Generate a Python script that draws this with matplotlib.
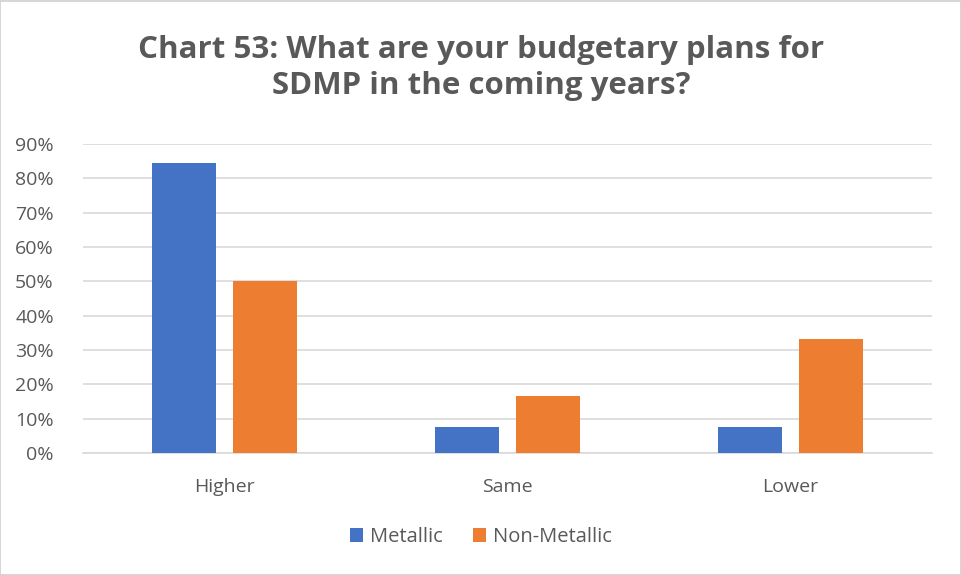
import matplotlib
matplotlib.use("Agg")
import matplotlib.pyplot as plt
from matplotlib.patches import Rectangle
import numpy as np

categories = ["Higher", "Same", "Lower"]
metallic = [84.6, 7.7, 7.7]
non_metallic = [50.0, 16.7, 33.3]
series_names = ["Metallic", "Non-Metallic"]
title = "Chart 53: What are your budgetary plans for\nSDMP in the coming years?"

blue = "#4472C4"
orange = "#ED7D31"
text_color = "#595959"
grid_color = "#D9D9D9"

plt.rcParams["font.family"] = ["Open Sans", "DejaVu Sans"]

fig = plt.figure(figsize=(9.62, 5.75), dpi=100)
fig.patches.append(Rectangle((0.0005, 0.0005), 0.998, 0.998, transform=fig.transFigure,
                             fill=False, edgecolor="#D0D0D0", linewidth=1.2))

ax = fig.add_axes([83 / 962, 1 - 453 / 575, (932 - 83) / 962, (453 - 144) / 575])

x = np.arange(len(categories))
width = 0.223
offset = 0.143
ax.bar(x - offset, metallic, width, color=blue, label=series_names[0], zorder=3)
ax.bar(x + offset, non_metallic, width, color=orange, label=series_names[1], zorder=3)

ax.set_xlim(-0.5, 2.5)
ax.set_ylim(0, 90)
ax.set_yticks(np.arange(0, 91, 10))
ax.set_yticklabels([f"{v}%" for v in range(0, 91, 10)])
ax.set_xticks(x)
ax.set_xticklabels(categories)
ax.tick_params(axis="both", length=0, labelsize=14, colors=text_color)
ax.tick_params(axis="y", pad=21)
ax.tick_params(axis="x", pad=18)
ax.yaxis.grid(True, color=grid_color, linewidth=1.2, zorder=0)
for s in ["top", "right", "left"]:
    ax.spines[s].set_visible(False)
ax.spines["bottom"].set_color(grid_color)
ax.spines["bottom"].set_linewidth(1.2)

fig.text(0.5, 1 - 68 / 575, title, ha="center", va="center", fontsize=22.5,
         fontweight="bold", color=text_color, linespacing=1.3)

fig.legend(loc="center", bbox_to_anchor=(0.5, 1 - 537 / 575), ncol=2, frameon=False,
           fontsize=14.5, labelcolor=text_color, handlelength=0.65, handleheight=0.65,
           handletextpad=0.35, columnspacing=1.5)

fig.savefig("out.png", dpi=100)
